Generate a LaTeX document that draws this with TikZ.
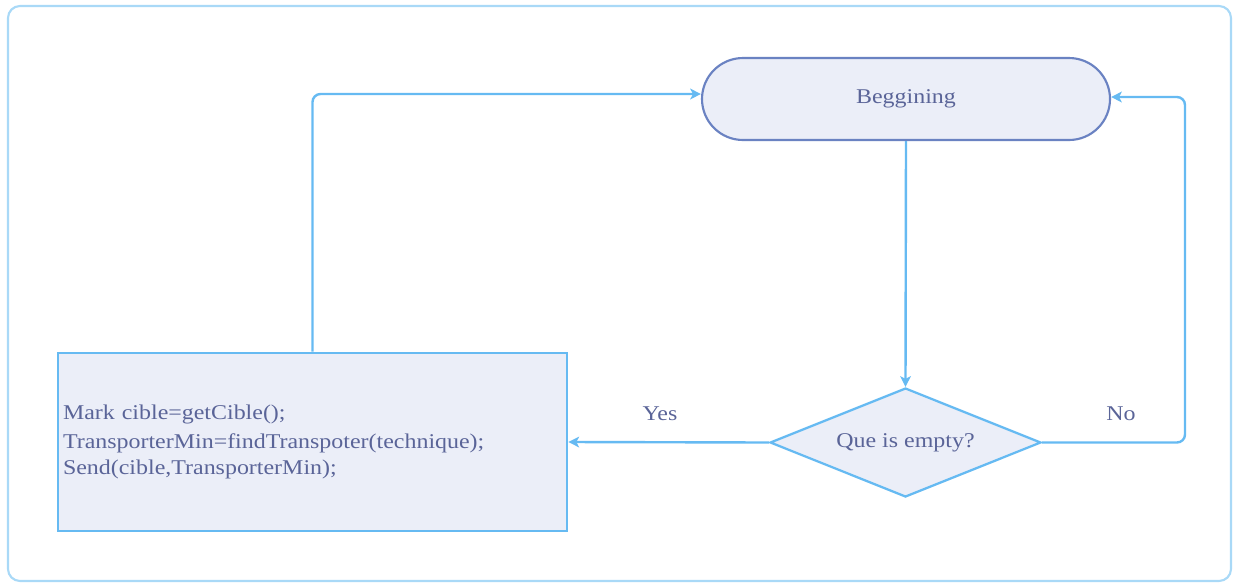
\documentclass[tikz,border=0pt]{standalone}
\usepackage{fontspec}
\setmainfont{Liberation Serif}[FakeStretch=1.14]
\usetikzlibrary{shapes.geometric,arrows.meta}
\definecolor{txt}{HTML}{5A6498}
\definecolor{line}{HTML}{66BAF2}
\definecolor{fillc}{HTML}{EBEEF8}
\definecolor{startline}{HTML}{6A82C2}
\definecolor{frame}{HTML}{A9D9F7}
\tikzset{
  base/.style={font=\fontsize{15.75pt}{19.5pt}\selectfont, text=txt},
  startbox/.style={base, draw=startline, fill=fillc, line width=1.6pt,
    rounded corners=30.75pt, minimum width=306pt, minimum height=61.5pt, inner sep=0pt},
  actionbox/.style={base, draw=line, fill=fillc, line width=2.1pt,
    minimum width=381.75pt, minimum height=133.5pt, inner sep=3.75pt,
    text width=374.25pt, align=left},
  testbox/.style={base, draw=line, fill=fillc, line width=1.7pt, diamond,
    aspect=2.49, minimum width=203.25pt, minimum height=81.75pt, inner sep=0pt},
  flow/.style={draw=line, line width=1.8pt, rounded corners=6pt,
    -{Stealth[length=8pt,width=8pt,inset=2pt]}},
  lbl/.style={base}
}
\begin{document}
\begin{tikzpicture}[x=0.75pt,y=-0.75pt]
  \useasboundingbox (0,0) rectangle (1233,583);
  % outer frame
  \draw[frame, line width=1.6pt, rounded corners=9pt] (8,6) rectangle (1231,581);

  \node[startbox] (beg) at (906,99) {Beggining};
  \node[testbox] (test) at (905.5,442.5) {Que is empty?};
  \node[actionbox] (act) at (312.5,442) {\vspace{2pt}Mark cible=getCible();\\
    TransporterMin=findTranspoter(technique);\\
    Send(cible,TransporterMin);};

  \coordinate (noturn) at (1185,0);
  \draw[flow] (beg.south) -- (test.north);
  \draw[flow] (test.west) -- (act.east);
  \draw[flow] (test.east) -- (test.east -| noturn) -- ([yshift=1.5pt]beg.east -| noturn) -- ([yshift=1.5pt]beg.east);
  \draw[flow] (act.north) |- ([yshift=3.75pt]beg.west);

  \node[lbl] (yes) at (660,414) {Yes};
  \node[lbl] (no) at (1121,414) {No};
\end{tikzpicture}
\end{document}
